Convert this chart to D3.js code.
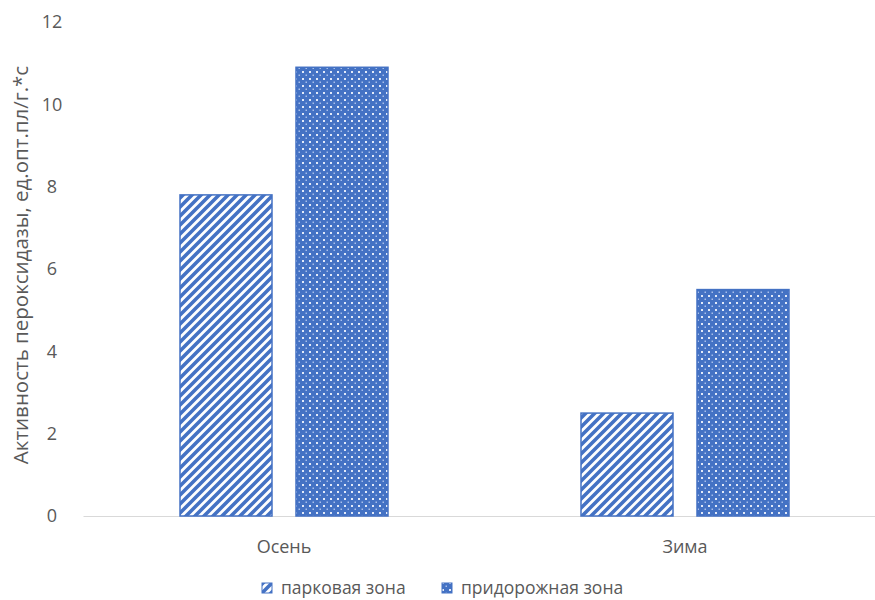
<!DOCTYPE html>
<html><head><meta charset="utf-8">
<script src="https://cdn.jsdelivr.net/npm/d3@7"></script>
<style>body{margin:0;background:#fff}svg{display:block}</style>
</head><body>
<script>
const categories = ["Осень", "Зима"];
const seriesNames = ["парковая зона", "придорожная зона"];
const parkValues = [7.8, 2.5];
const roadValues = [10.9, 5.5];
const yTicks = [0, 2, 4, 6, 8, 10, 12];
const yTitle = "Активность пероксидазы, ед.опт.пл/г.*с";

const W = 875, H = 600;
const blue = "#4472C4";
const txt = "#595959";
const font = "Open Sans, Liberation Sans, sans-serif";
const svg = d3.select("body").append("svg").attr("width", W).attr("height", H);
const defs = svg.append("defs");

// diagonal stripes pattern
const p1 = defs.append("pattern").attr("id", "stripes").attr("patternUnits", "userSpaceOnUse")
  .attr("width", 9).attr("height", 9);
p1.append("rect").attr("width", 9).attr("height", 9).attr("fill", "#fff");
p1.append("path").attr("d", "M-2,2 L2,-2 M0,9 L9,0 M7,11 L11,7")
  .attr("stroke", blue).attr("stroke-width", 3.6);

// dotted grid pattern
const p2 = defs.append("pattern").attr("id", "dots").attr("patternUnits", "userSpaceOnUse")
  .attr("width", 7).attr("height", 7);
p2.append("rect").attr("width", 7).attr("height", 7).attr("fill", blue);
p2.append("rect").attr("x", 1).attr("y", 1).attr("width", 2).attr("height", 2).attr("fill", "#e3eaf8");
p2.append("rect").attr("x", 4.5).attr("y", 4.5).attr("width", 1.5).attr("height", 1.5).attr("fill", "#a9bfea");

const x0 = d3.scaleBand().domain(categories).range([83.5, 885.5]).paddingInner(0).paddingOuter(0);
const x1 = d3.scaleBand().domain(seriesNames).range([96.5, 401 - 96.5]).paddingInner(24 / 116);
const y = d3.scaleLinear().domain([0, 12]).range([516, 22]);

// y tick labels
svg.append("g").selectAll("text").data(yTicks).join("text")
  .attr("x", 52).attr("y", d => y(d)).attr("dy", "0.35em").attr("text-anchor", "middle")
  .attr("font-family", font).attr("font-size", 18).attr("fill", txt)
  .text(d => d);

// x axis line
svg.append("line").attr("x1", x0.range()[0]).attr("x2", x0.range()[1])
  .attr("y1", y(0) + 0.5).attr("y2", y(0) + 0.5).attr("stroke", "#d9d9d9").attr("stroke-width", 1);

// bars
const data = categories.map((c, i) => ({c, vals: [parkValues[i], roadValues[i]]}));
const g = svg.append("g");
data.forEach(d => {
  d.vals.forEach((v, j) => {
    g.append("rect")
      .attr("x", x0(d.c) + x1(seriesNames[j]))
      .attr("y", y(v))
      .attr("width", x1.bandwidth())
      .attr("height", y(0) - y(v))
      .attr("fill", j === 0 ? "url(#stripes)" : "url(#dots)")
      .attr("stroke", blue).attr("stroke-width", 1.5);
  });
});

// category labels
svg.append("g").selectAll("text").data(categories).join("text")
  .attr("x", d => x0(d) + x0.bandwidth() / 2).attr("y", 553).attr("text-anchor", "middle")
  .attr("font-family", font).attr("font-size", 18).attr("fill", txt)
  .text(d => d);

// y title
svg.append("text").attr("transform", "translate(28,265) rotate(-90)").attr("text-anchor", "middle")
  .attr("font-family", font).attr("font-size", 20.5).attr("fill", txt)
  .text(yTitle);

// legend
const legX = [262, 442];
const lg = svg.append("g");
seriesNames.forEach((s, j) => {
  lg.append("rect").attr("x", legX[j]).attr("y", 583).attr("width", 10).attr("height", 10)
    .attr("fill", j === 0 ? "url(#stripes)" : "url(#dots)").attr("stroke", blue).attr("stroke-width", 1);
  lg.append("text").attr("x", legX[j] + 19).attr("y", 588).attr("dy", "0.35em")
    .attr("font-family", font).attr("font-size", 17.5).attr("fill", txt)
    .text(s);
});
</script>
</body></html>
